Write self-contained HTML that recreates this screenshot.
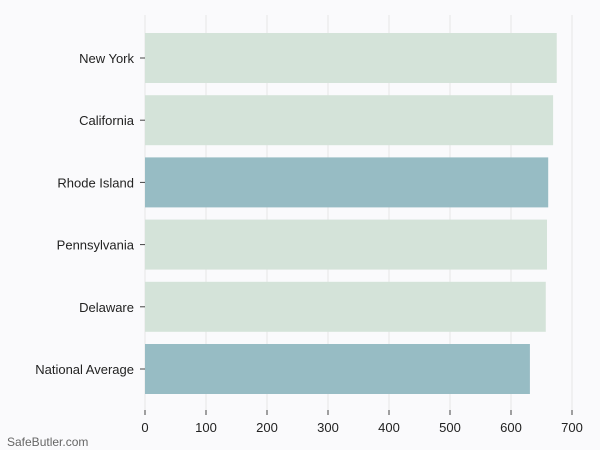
<!DOCTYPE html>
<html><head><meta charset="utf-8"><style>
body{margin:0;background:#fafafc;}
svg{display:block;font-family:"Liberation Sans","DejaVu Sans",sans-serif;}
</style></head><body>
<svg id="chart" width="600" height="450">
<rect width="600" height="450" fill="#fafafc"/>
<g id="grid"></g><g id="bars"></g><g id="ylabels"></g><g id="xticks"></g>
<text x="7" y="446" font-size="12" fill="#666">SafeButler.com</text>
</svg>
<script>
const categories=["New York","California","Rhode Island","Pennsylvania","Delaware","National Average"];
const values=[675,669,661,659,657,631];
const highlight=[false,false,true,false,false,true];
const ticks=[0,100,200,300,400,500,600,700];
const ns="http://www.w3.org/2000/svg";
const x=v=>145+v*(572-145)/700;
const y=i=>33+i*62.2;
const bh=50;
function mk(t,a,p){const e=document.createElementNS(ns,t);for(const k in a)e.setAttribute(k,a[k]);p.appendChild(e);return e;}
const g=document.getElementById('grid'),b=document.getElementById('bars'),yl=document.getElementById('ylabels'),xt=document.getElementById('xticks');
ticks.forEach(t=>{
 const l=mk('line',{x1:x(t),x2:x(t),y1:15,y2:410,stroke:'#e6e6e6','stroke-width':1},g);
 
 
 const tk=mk('line',{x1:x(t),x2:x(t),y1:410,y2:415,stroke:'#444'},xt);
 
 
 const tx=mk('text',{x:x(t),y:432,'text-anchor':'middle','font-size':13,fill:'#222'},xt);
 tx.textContent=t;
 
 
});
categories.forEach((c,i)=>{
 const r=mk('rect',{x:x(0),y:y(i),width:x(values[i])-x(0),height:bh,fill:highlight[i]?'#97bcc4':'#d4e3d9'},b);
 
 
 const tk=mk('line',{x1:140,x2:145,y1:y(i)+bh/2,y2:y(i)+bh/2,stroke:'#444'},yl);
 
 
 const t=mk('text',{x:134,y:y(i)+bh/2+5,'text-anchor':'end','font-size':13,fill:'#222'},yl);
 t.textContent=c;
 
 
});
</script>
</body></html>
